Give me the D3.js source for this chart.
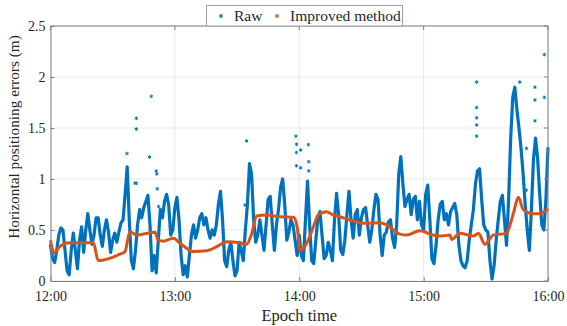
<!DOCTYPE html>
<html>
<head>
<meta charset="utf-8">
<script src="https://cdn.jsdelivr.net/npm/d3@7"></script>
</head>
<body style="margin:0;background:#fff">
<div id="chart"></div>
<script>
// axis ticks
const xTicks = [0, 60, 120, 180, 240];
const xTickLabels = ['12:00', '13:00', '14:00', '15:00', '16:00'];
const yTicks = [0, 0.5, 1, 1.5, 2, 2.5];
const yTickLabels = ['0', '0.5', '1', '1.5', '2', '2.5'];

// raw horizontal error (m), one reading per minute from 12:00
const rawH12 = [0.35, 0.22, 0.18, 0.30, 0.45, 0.52, 0.50, 0.30, 0.10, 0.06,
  0.30, 0.47, 0.30, 0.12, 0.40, 0.53, 0.28, 0.50, 0.66, 0.50,
  0.36, 0.45, 0.62, 0.62, 0.45, 0.34, 0.50, 0.60, 0.48, 0.28,
  0.40, 0.47, 0.38, 0.48, 0.57, 0.60, 0.85, 1.12, 0.60, 0.20,
  0.12, 0.30, 0.55, 0.70, 0.62, 0.72, 0.78, 0.84, 0.55, 0.10,
  0.25, 0.08, 0.40, 0.70, 0.62, 0.78, 0.85, 0.75, 0.45, 0.50];
const rawH13 = [0.72, 0.82, 0.60, 0.25, 0.06, 0.15, 0.04, 0.25, 0.45, 0.55,
  0.42, 0.50, 0.62, 0.66, 0.55, 0.62, 0.50, 0.42, 0.50, 0.45,
  0.55, 0.75, 0.88, 0.60, 0.20, 0.14, 0.30, 0.38, 0.20, 0.05,
  0.10, 0.38, 0.30, 0.20, 0.50, 0.75, 1.15, 1.05, 0.60, 0.38,
  0.45, 0.60, 0.45, 0.30, 0.55, 0.80, 0.83, 0.55, 0.30, 0.55,
  0.70, 0.92, 1.00, 0.75, 0.40, 0.48, 0.60, 0.55, 0.40, 0.25];
const rawH14 = [0.45, 0.25, 0.20, 0.60, 0.98, 0.55, 0.20, 0.17, 0.40, 0.62,
  0.68, 0.45, 0.22, 0.25, 0.38, 0.30, 0.20, 0.60, 0.86, 0.65,
  0.30, 0.26, 0.40, 0.65, 0.88, 0.60, 0.42, 0.65, 0.70, 0.45,
  0.62, 0.70, 0.72, 0.55, 0.38, 0.50, 0.70, 0.85, 0.80, 0.45,
  0.25, 0.45, 0.48, 0.58, 0.60, 0.42, 0.33, 0.55, 1.05, 1.22,
  0.95, 0.73, 0.80, 0.85, 0.65, 0.80, 0.83, 0.60, 0.78, 0.55];
const rawH15 = [0.50, 0.85, 0.94, 0.60, 0.22, 0.17, 0.35, 0.60, 0.75, 0.78,
  0.60, 0.66, 0.55, 0.68, 0.72, 0.76, 0.65, 0.35, 0.20, 0.15,
  0.13, 0.20, 0.40, 0.55, 0.70, 0.95, 1.08, 1.10, 0.80, 0.55,
  0.50, 0.48, 0.20, 0.02, 0.15, 0.40, 0.60, 0.78, 0.84, 0.60,
  0.35, 0.80, 1.40, 1.80, 1.90, 1.68, 1.50, 1.30, 1.05, 0.75,
  0.50, 0.30, 0.70, 1.20, 1.40, 1.20, 0.85, 0.55, 0.50, 0.80, 1.30];

// isolated raw points (minute after 12:00, error m)
const outlierMin = [36.9, 40.8, 41.4, 41.4, 41.4, 47.8, 48.6, 51.0, 51.3, 51.5, 52.2,
  93.8, 94.6, 118.4, 118.6, 118.7, 118.6, 120.7, 120.7, 124.4, 124.6, 124.6,
  205.6, 205.6, 205.6, 205.6, 205.6, 226.4, 229.5, 229.7, 233.7, 233.7, 233.7, 238.2, 238.2];
const outlierVal = [1.25, 0.96, 1.595, 1.49, 0.957, 1.215, 1.81, 1.078, 1.05, 0.905, 0.73,
  0.745, 1.373, 1.42, 1.26, 1.34, 1.13, 1.284, 1.11, 1.337, 1.17, 1.08,
  1.95, 1.70, 1.60, 1.53, 1.42, 1.95, 0.89, 1.30, 1.90, 1.775, 1.57, 2.22, 1.80];

// improved method (minute after 12:00, error m)
const improvedMin = [0, 1.7, 4.6, 9.4, 20.7, 23, 33.5, 36, 37.6, 38.5, 41.6, 44.8, 50.4,
  52, 54.4, 59.3, 62.5, 69, 75.4, 80.2, 85, 91.4, 94.6, 97, 99.5, 104.3, 110.7,
  117.2, 119, 120.4, 123.6, 126.8, 129.2, 133.2, 136.4, 139.7, 144.5, 152.5, 159,
  162.2, 168.6, 171.8, 178.2, 184.7, 187.9, 192.7, 193.5, 197.5, 204, 206.4, 209.6,
  213.6, 220, 223.3, 225.7, 228.1, 232.9, 236.1, 240];
const improvedVal = [0.40, 0.277, 0.34, 0.375, 0.375, 0.20, 0.263, 0.29, 0.44, 0.48, 0.45, 0.46, 0.478,
  0.40, 0.39, 0.42, 0.37, 0.29, 0.297, 0.336, 0.385, 0.375, 0.36, 0.46, 0.637, 0.647, 0.63,
  0.624, 0.53, 0.30, 0.37, 0.53, 0.647, 0.68, 0.647, 0.63, 0.598, 0.565, 0.572,
  0.55, 0.46, 0.45, 0.493, 0.45, 0.44, 0.45, 0.408, 0.467, 0.44, 0.467, 0.36,
  0.45, 0.467, 0.663, 0.82, 0.70, 0.66, 0.66, 0.71];

const raw = rawH12.concat(rawH13, rawH14, rawH15);
const blue = '#0072BD', orange = '#D95319';
const serif = 'Liberation Serif';

const W = 567, H = 326;
const margin = { top: 26, right: 19, bottom: 45, left: 50.5 };

const svg = d3.select('#chart').append('svg')
  .attr('width', W).attr('height', H);

const x = d3.scaleLinear().domain([0, 240]).range([margin.left, W - margin.right]);
const y = d3.scaleLinear().domain([0, 2.5]).range([H - margin.bottom, margin.top]);

// grid
svg.append('g').selectAll('line').data(xTicks).enter().append('line')
  .attr('x1', d => x(d)).attr('x2', d => x(d))
  .attr('y1', y(0)).attr('y2', y(2.5))
  .attr('stroke', '#e3e3e3').attr('stroke-width', 0.8);
svg.append('g').selectAll('line').data(yTicks).enter().append('line')
  .attr('x1', x(0)).attr('x2', x(240))
  .attr('y1', d => y(d)).attr('y2', d => y(d))
  .attr('stroke', '#e3e3e3').attr('stroke-width', 0.8);

// raw series
const rawLine = d3.line().x((d, i) => x(i)).y(d => y(d));
svg.append('path').datum(raw)
  .attr('d', rawLine)
  .attr('fill', 'none').attr('stroke', blue)
  .attr('stroke-width', 3.2).attr('stroke-linejoin', 'round').attr('stroke-linecap', 'round');

const star = d3.symbol().type(d3.symbolAsterisk || d3.symbolCross).size(9);
svg.append('g').selectAll('path').data(outlierMin).enter().append('path')
  .attr('d', star)
  .attr('transform', (d, i) => `translate(${x(d)},${y(outlierVal[i])})`)
  .attr('fill', blue).attr('stroke', blue).attr('stroke-width', 1);

// improved series
const impLine = d3.line().x(d => x(d)).y((d, i) => y(improvedVal[i])).curve(d3.curveMonotoneX);
svg.append('path').datum(improvedMin)
  .attr('d', impLine)
  .attr('fill', 'none').attr('stroke', orange)
  .attr('stroke-width', 3).attr('stroke-linejoin', 'round');

// axes box
const xAxis = d3.axisBottom(x).tickValues(xTicks).tickFormat((d, i) => xTickLabels[i])
  .tickSizeInner(-4).tickSizeOuter(0).tickPadding(8);
const yAxis = d3.axisLeft(y).tickValues(yTicks).tickFormat((d, i) => yTickLabels[i])
  .tickSizeInner(-4).tickSizeOuter(0).tickPadding(5);

const gx = svg.append('g').attr('transform', `translate(0,${y(0)})`).call(xAxis);
const gy = svg.append('g').attr('transform', `translate(${x(0)},0)`).call(yAxis);
[gx, gy].forEach(g => {
  g.attr('font-family', null).attr('font-size', null);
  g.selectAll('path, line').attr('stroke', '#808080');
  g.selectAll('text').attr('fill', '#262626')
    .attr('font-family', serif).attr('font-size', 14);
});
gx.selectAll('text').attr('dy', '0.85em');

svg.append('line').attr('x1', x(0)).attr('x2', x(240)).attr('y1', y(2.5)).attr('y2', y(2.5))
  .attr('stroke', '#808080');
svg.append('line').attr('x1', x(240)).attr('x2', x(240)).attr('y1', y(0)).attr('y2', y(2.5))
  .attr('stroke', '#808080');
// inward ticks on top and right
svg.append('g').selectAll('line').data(xTicks).enter().append('line')
  .attr('x1', d => x(d)).attr('x2', d => x(d)).attr('y1', y(2.5)).attr('y2', y(2.5) + 4)
  .attr('stroke', '#808080');
svg.append('g').selectAll('line').data(yTicks).enter().append('line')
  .attr('x1', x(240)).attr('x2', x(240) - 4).attr('y1', d => y(d)).attr('y2', d => y(d))
  .attr('stroke', '#808080');

// labels
svg.append('text').attr('x', (x(0) + x(240)) / 2).attr('y', 321)
  .attr('font-family', serif).attr('fill', '#262626')
  .attr('text-anchor', 'middle').attr('font-size', 16.5).text('Epoch time');
svg.append('text').attr('transform', 'translate(19,137) rotate(-90)')
  .attr('font-family', serif).attr('fill', '#262626')
  .attr('text-anchor', 'middle').attr('font-size', 15.3).text('Horizontal positioning errors (m)');

// legend
const lg = svg.append('g');
lg.append('rect').attr('x', 206.5).attr('y', 5.5).attr('width', 196).attr('height', 20.5)
  .attr('fill', '#fff').attr('stroke', '#a0a0a0').attr('stroke-width', 1);
const lstar = d3.symbol().type(d3.symbolAsterisk || d3.symbolCross).size(14);
lg.append('path').attr('d', lstar).attr('transform', 'translate(221,16)')
  .attr('fill', blue).attr('stroke', blue).attr('stroke-width', 1);
lg.append('text').attr('x', 234).attr('y', 21).attr('font-family', serif).attr('fill', '#262626')
  .attr('font-size', 15.5).text('Raw');
lg.append('path').attr('d', lstar).attr('transform', 'translate(277,16)')
  .attr('fill', orange).attr('stroke', orange).attr('stroke-width', 1);
lg.append('text').attr('x', 290).attr('y', 21).attr('font-family', serif).attr('fill', '#262626')
  .attr('font-size', 15.5).text('Improved method');
</script>
</body>
</html>
